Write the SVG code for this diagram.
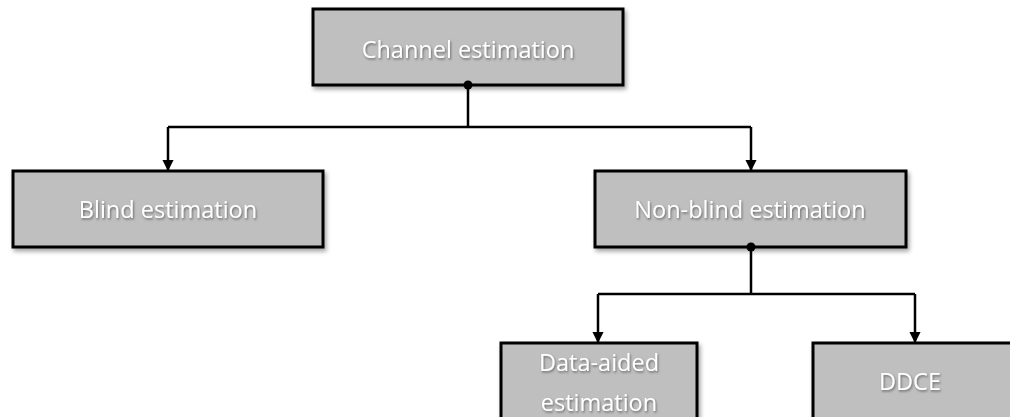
<svg xmlns="http://www.w3.org/2000/svg" width="1010" height="417" viewBox="0 0 1010 417">
<style>
.box{fill:#bfbfbf;stroke:#000;stroke-width:3;filter:url(#sh)}
.lbl{fill:#fff;font-family:"Open Sans","Liberation Sans",sans-serif;font-size:23.5px;text-anchor:middle;filter:url(#tsh)}
.con{fill:none;stroke:#000;stroke-width:2.5}
</style>
<defs>
<filter id="sh" x="-10%" y="-10%" width="120%" height="130%">
<feDropShadow dx="2" dy="3" stdDeviation="2" flood-color="#000" flood-opacity="0.35"/>
</filter>
<filter id="tsh" x="-10%" y="-20%" width="120%" height="150%">
<feDropShadow dx="1" dy="1.5" stdDeviation="1" flood-color="#555" flood-opacity="0.8"/>
</filter>
<marker id="arr" viewBox="0 0 10 10" refX="9" refY="5" markerWidth="4.5" markerHeight="4.5" orient="auto" markerUnits="strokeWidth">
<path d="M0,0 L10,5 L0,10 z" fill="#000"/>
</marker>
</defs>
<g id="channel">
<rect class="box" x="313" y="9" width="310" height="76"/>
<text class="lbl" x="468" y="58">Channel estimation</text>
</g>
<g id="blind">
<rect class="box" x="13" y="171" width="310" height="76"/>
<text class="lbl" x="168" y="218">Blind estimation</text>
</g>
<g id="nonblind">
<rect class="box" x="595" y="171" width="311" height="76"/>
<text class="lbl" x="750" y="218">Non-blind estimation</text>
</g>
<g id="dataaided">
<rect class="box" x="501" y="343" width="196" height="90"/>
<text class="lbl" x="599" y="371">Data-aided</text>
<text class="lbl" x="599" y="411">estimation</text>
</g>
<g id="ddce">
<rect class="box" x="813" y="343" width="210" height="90"/>
<text class="lbl" x="910" y="390">DDCE</text>
</g>
<g id="connectors">
<path class="con" d="M468,85 V127 M168,127 H751" />
<path class="con" d="M168,127 V170" marker-end="url(#arr)"/>
<path class="con" d="M751,127 V170" marker-end="url(#arr)"/>
<circle cx="468" cy="85" r="4.5" fill="#000"/>
<path class="con" d="M751,247 V294 M598,294 H915"/>
<path class="con" d="M598,294 V342" marker-end="url(#arr)"/>
<path class="con" d="M915,294 V342" marker-end="url(#arr)"/>
<circle cx="751" cy="247" r="4.5" fill="#000"/>
</g>
</svg>
